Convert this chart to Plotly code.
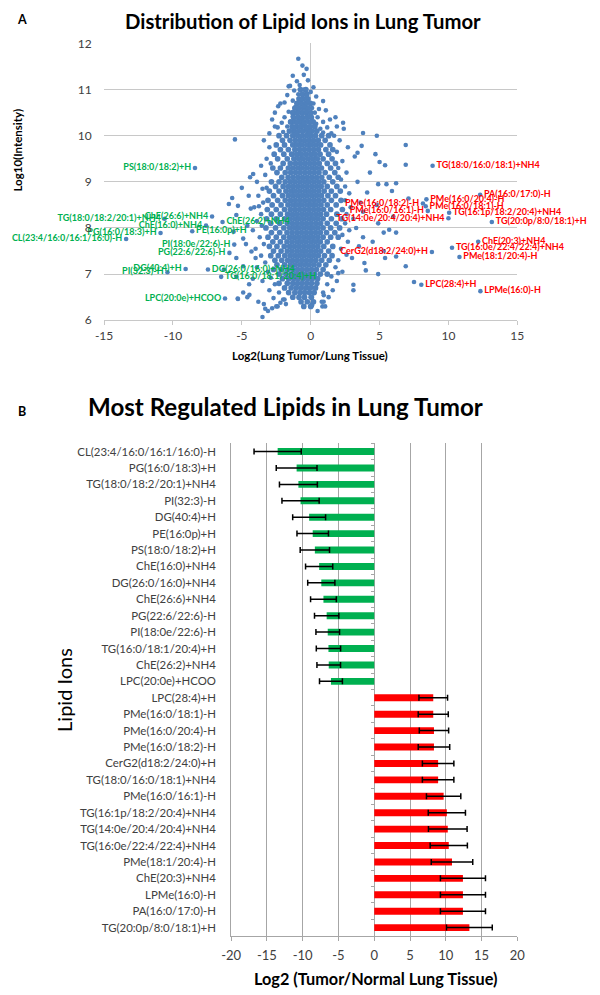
import plotly.graph_objects as go

# ---------------- Panel A data (scatter) ----------------
# Dense core of the cloud: (log10 intensity, [log2 ratios]) read row by row
core_rows = [
    (11.0, [-0.75, -0.35]),
    (10.9, [-0.6, -0.28]),
    (10.8, [-0.85, -0.52, -0.2]),
    (10.7, [-1.0, -0.68, -0.35, -0.02]),
    (10.6, [-1.15, -0.82, -0.5, -0.18]),
    (10.5, [-1.3, -0.98, -0.65, -0.32, 0.0]),
    (10.4, [-1.25, -0.92, -0.6, -0.27, 0.05]),
    (10.3, [-1.45, -1.12, -0.8, -0.47, -0.15, 0.18]),
    (10.2, [-1.35, -1.02, -0.7, -0.38, -0.05, 0.3]),
    (10.1, [-1.55, -1.2, -0.88, -0.55, -0.22, 0.1, 0.45]),
    (10.0, [-2.3, -1.75, -1.3, -0.95, -0.62, -0.3, 0.02, 0.35, 0.8, 1.3]),
    (9.9, [-2.05, -1.5, -1.12, -0.78, -0.45, -0.12, 0.2, 0.55, 1.05]),
    (9.8, [-2.5, -1.9, -1.3, -0.96, -0.62, -0.28, 0.05, 0.38, 0.72, 1.4]),
    (9.7, [-2.2, -1.62, -1.15, -0.8, -0.46, -0.12, 0.22, 0.56, 1.1, 1.6]),
    (9.6, [-2.65, -1.95, -1.38, -1.02, -0.68, -0.34, 0.0, 0.33, 0.68, 1.3]),
    (9.5, [-2.4, -1.7, -1.22, -0.88, -0.54, -0.2, 0.14, 0.48, 0.9, 1.55]),
    (9.4, [-2.0, -1.48, -1.1, -0.75, -0.41, -0.07, 0.27, 0.62, 1.2, 1.8]),
    (9.3, [-2.75, -2.2, -1.62, -1.28, -0.94, -0.6, -0.26, 0.08, 0.42, 0.78, 1.45]),
    (9.2, [-2.45, -1.85, -1.45, -1.1, -0.76, -0.42, -0.08, 0.26, 0.6, 1.05, 1.75]),
    (9.1, [-2.1, -1.64, -1.28, -0.93, -0.59, -0.25, 0.09, 0.43, 0.8, 1.35, 2.0]),
    (9.0, [-2.85, -2.3, -1.85, -1.47, -1.12, -0.78, -0.44, -0.1, 0.24, 0.58, 0.95, 1.6]),
    (8.9, [-2.55, -2.0, -1.62, -1.28, -0.94, -0.6, -0.26, 0.08, 0.42, 0.76, 1.2, 1.9]),
    (8.8, [-3.0, -2.3, -1.8, -1.45, -1.11, -0.77, -0.43, -0.09, 0.25, 0.59, 0.98, 1.5, 2.15]),
    (8.7, [-2.7, -2.05, -1.63, -1.28, -0.94, -0.6, -0.26, 0.08, 0.42, 0.78, 1.25, 1.8]),
    (8.6, [-3.1, -2.4, -1.85, -1.46, -1.12, -0.78, -0.44, -0.1, 0.24, 0.58, 0.95, 1.5, 2.2]),
    (8.5, [-2.8, -2.15, -1.65, -1.3, -0.96, -0.62, -0.28, 0.06, 0.4, 0.75, 1.2, 1.85]),
    (8.4, [-3.15, -2.5, -1.9, -1.48, -1.14, -0.8, -0.46, -0.12, 0.22, 0.56, 0.93, 1.45, 2.3]),
    (8.3, [-2.85, -2.2, -1.68, -1.32, -0.98, -0.64, -0.3, 0.04, 0.38, 0.72, 1.15, 1.9]),
    (8.2, [-3.2, -2.5, -1.9, -1.5, -1.16, -0.82, -0.48, -0.14, 0.2, 0.54, 0.9, 1.5, 2.25]),
    (8.1, [-2.9, -2.25, -1.7, -1.33, -0.99, -0.65, -0.31, 0.03, 0.37, 0.72, 1.2, 1.85]),
    (8.0, [-3.25, -2.55, -1.95, -1.52, -1.17, -0.83, -0.49, -0.15, 0.19, 0.53, 0.9, 1.45, 2.1]),
    (7.9, [-2.85, -2.25, -1.72, -1.35, -1.0, -0.66, -0.32, 0.02, 0.36, 0.7, 1.15, 1.75]),
    (7.8, [-3.1, -2.5, -1.95, -1.53, -1.18, -0.84, -0.5, -0.16, 0.18, 0.52, 0.9, 1.45, 2.0]),
    (7.7, [-2.75, -2.2, -1.72, -1.36, -1.01, -0.67, -0.33, 0.01, 0.35, 0.7, 1.2]),
    (7.6, [-3.0, -2.45, -1.92, -1.52, -1.18, -0.84, -0.5, -0.16, 0.18, 0.52, 0.95, 1.6]),
    (7.5, [-2.7, -2.15, -1.7, -1.35, -1.0, -0.66, -0.32, 0.02, 0.36, 0.72, 1.3]),
    (7.4, [-2.9, -2.35, -1.88, -1.5, -1.16, -0.82, -0.48, -0.14, 0.2, 0.55, 1.0, 1.55]),
    (7.3, [-2.6, -2.1, -1.67, -1.32, -0.98, -0.64, -0.3, 0.04, 0.38, 0.8, 1.35]),
    (7.2, [-2.45, -1.9, -1.48, -1.13, -0.79, -0.45, -0.11, 0.23, 0.6, 1.1]),
    (7.1, [-2.7, -2.15, -1.68, -1.3, -0.96, -0.62, -0.28, 0.06, 0.42, 0.9]),
    (7.0, [-2.3, -1.8, -1.42, -1.08, -0.74, -0.4, -0.06, 0.28, 0.7, 1.2]),
    (6.9, [-2.05, -1.6, -1.24, -0.9, -0.56, -0.22, 0.12, 0.5]),
    (6.8, [-2.3, -1.7, -1.3, -0.96, -0.62, -0.28, 0.06, 0.45]),
    (6.7, [-1.9, -1.42, -1.05, -0.7, -0.36, -0.02, 0.35]),
    (6.6, [-1.6, -1.15, -0.78, -0.44, -0.1, 0.25]),
    (6.5, [-1.3, -0.85, -0.45, 0.05]),
    (6.4, [-0.7, -0.25, 0.2]),
    (6.3, [-0.5, 0.0]),
]

# Sparse points around the core (log2 ratio, log10 intensity)
sparse_points = [
    (-0.9, 11.67), (-0.6, 11.52), (-0.3, 11.45), (-1.3, 11.3), (-0.5, 11.32), (-1.0, 11.18),
    (-0.2, 11.2), (-1.5, 11.08), (-0.8, 11.1), (0.2, 11.05), (-1.2, 10.98), (-0.5, 11.0),
    (0.0, 10.95), (-1.7, 10.88), (-0.9, 10.9), (-0.3, 10.87), (0.4, 10.85), (-2.2, 10.7),
    (-1.9, 10.72), (-1.3, 10.76), (-0.7, 10.78), (-0.2, 10.74), (0.2, 10.7), (0.9, 10.75),
    (-1.1, 10.62), (-0.5, 10.64), (0.1, 10.6), (0.6, 10.58), (-2.6, 10.5), (-1.6, 10.52),
    (-0.9, 10.5), (-0.3, 10.53), (0.3, 10.5), (1.1, 10.55), (-1.9, 10.4), (-1.3, 10.42),
    (-0.7, 10.38), (-0.1, 10.42), (0.5, 10.4), (1.4, 10.35), (-2.1, 10.28), (-1.5, 10.3),
    (-1.0, 10.3), (-0.5, 10.27), (0.0, 10.3), (0.4, 10.26), (0.9, 10.3), (-2.4, 10.18),
    (-1.7, 10.2), (-1.2, 10.17), (-0.8, 10.2), (-0.3, 10.16), (0.2, 10.2), (0.7, 10.15),
    (1.2, 10.18), (1.9, 10.2), (-2.0, 10.08), (-1.5, 10.1), (-1.0, 10.06), (-0.6, 10.1),
    (-0.1, 10.05), (0.4, 10.1), (0.9, 10.07), (1.5, 10.05),
    (-3.4, 9.9), (-3.0, 9.75), (-3.2, 9.5), (-3.6, 9.35), (-3.3, 9.15), (-3.9, 9.0),
    (-3.5, 8.85), (-3.8, 8.7), (-3.45, 8.55), (-4.1, 8.45), (-3.6, 8.3), (-3.9, 8.15),
    (-3.55, 8.05), (-4.2, 7.95), (-3.7, 7.8), (-3.4, 7.65), (-4.0, 7.55), (-3.6, 7.4),
    (-3.3, 7.25), (-3.9, 7.15), (-3.1, 7.05), (-2.9, 6.92), (-3.5, 6.85), (-2.6, 6.78),
    (-3.0, 6.65), (-2.3, 6.6), (-2.7, 6.48), (-2.0, 6.45), (-3.3, 6.25), (-2.4, 6.3),
    (-1.8, 6.35), (-4.6, 8.05), (-4.5, 8.7), (-4.4, 9.1), (-3.0, 10.05), (-2.8, 10.35),
    (-4.2, 6.9), (-4.7, 7.65),
    (1.7, 10.0), (2.1, 9.9), (1.9, 9.65), (2.3, 9.45), (2.0, 9.3), (2.6, 9.2), (2.2, 9.05),
    (2.5, 8.9), (2.8, 8.75), (2.5, 8.6), (2.9, 8.45), (2.6, 8.3), (3.1, 8.2), (2.5, 8.1),
    (2.8, 7.95), (2.3, 7.85), (2.7, 7.7), (2.2, 7.55), (2.6, 7.42), (2.0, 7.3), (1.8, 7.15),
    (2.3, 7.05), (1.5, 6.95), (1.9, 6.85), (1.2, 6.78), (1.6, 6.65), (0.9, 6.6), (1.3, 6.5),
    (0.8, 6.4), (1.05, 6.3), (0.5, 6.2), (0.1, 6.35), (3.4, 9.0), (3.6, 8.55), (3.3, 8.0),
    (3.5, 7.6), (3.0, 7.35), (3.2, 9.55), (2.7, 9.75), (2.4, 10.15), (1.8, 10.4),
    (-5.5, 9.92), (-4.18, 9.17), (-5.94, 8.52), (-5.28, 8.48), (-4.35, 8.42), (-3.76, 8.47),
    (-5.4, 8.28), (-5.6, 7.92), (-4.9, 7.77), (-4.3, 7.49), (-5.4, 7.35), (-4.9, 7.17),
    (-4.0, 7.35), (-5.4, 6.94), (-4.47, 6.78), (-5.3, 6.47), (-4.6, 6.5), (-3.5, 6.07),
    (-4.45, 6.55), (-3.1, 6.2), (-6.3, 7.1), (-5.7, 8.65), (-5.0, 8.87), (-3.2, 8.87),
    (-2.9, 9.4), (-2.6, 10.2), (-2.36, 10.64), (-1.6, 11.07), (-3.8, 6.4), (-3.4, 6.35),
    (-2.8, 6.26), (-2.5, 6.3), (-2.2, 6.38), (-1.9, 6.45), (0.0, 6.5), (0.1, 6.32),
    (0.85, 6.3), (0.95, 6.54), (3.1, 6.65), (-5.28, 6.46), (-4.9, 6.6),
    (2.35, 10.28), (3.8, 10.06), (4.8, 10.0), (6.9, 9.8), (4.7, 9.6), (5.0, 9.43),
    (5.4, 9.36), (6.9, 9.37), (3.7, 9.78), (3.4, 9.63), (6.2, 8.97), (5.5, 8.95),
    (4.9, 8.95), (7.1, 8.64), (5.9, 8.8), (4.3, 9.2), (4.1, 8.77), (3.8, 8.35),
    (4.8, 8.5), (6.0, 8.25), (4.9, 8.1), (5.7, 7.96), (6.2, 7.9), (5.3, 7.9), (3.8, 7.8),
    (4.5, 7.7), (5.3, 7.5), (6.2, 7.38), (6.9, 7.17), (5.4, 7.35), (3.9, 7.24),
    (4.0, 7.08), (4.9, 7.0), (3.1, 6.77), (2.0, 7.02), (0.94, 6.4), (7.5, 6.83),
]

# Labelled ions (name, log2 ratio, log10 intensity, label side)
down_labels = [
    ("PS(18:0/18:2)+H", -8.4, 9.30, "middle left"),
    ("ChE(26:6)+NH4", -7.16, 8.25, "middle left"),
    ("TG(18:0/18:2/20:1)+NH4", -10.6, 8.2, "middle left"),
    ("ChE(16:0)+NH4", -7.6, 8.05, "middle left"),
    ("PG(16:0/18:3)+H", -10.9, 7.89, "middle left"),
    ("CL(23:4/16:0/16:1/16:0)-H", -13.4, 7.76, "middle left"),
    ("PE(16:0p)+H", -8.6, 7.93, "middle right"),
    ("PI(18:0e/22:6)-H", -5.55, 7.64, "middle left"),
    ("PG(22:6/22:6)-H", -5.9, 7.46, "middle left"),
    ("DG(40:4)+H", -9.08, 7.11, "middle left"),
    ("PI(32:3)-H", -10.4, 7.04, "middle left"),
    ("LPC(20:0e)+HCOO", -6.22, 6.47, "middle left"),
    ("DG(26:0/16:0)+NH4", -7.46, 7.1, "middle right"),
    ("ChE(26:2)+NH4", -6.4, 8.13, "middle right"),
    ("TG(16:0/18:1/20:4)+H", -6.5, 6.94, "middle right"),
]
up_labels = [
    ("TG(18:0/16:0/18:1)+NH4", 8.85, 9.35, "middle right"),
    ("PA(16:0/17:0)-H", 12.3, 8.72, "middle right"),
    ("PMe(16:0/20:4)-H", 8.4, 8.62, "middle right"),
    ("PMe(16:0/18:1)-H", 8.35, 8.47, "middle right"),
    ("PMe(16:0/18:2)-H", 8.15, 8.53, "middle left"),
    ("PMe(16:0/16:1)-H", 8.5, 8.37, "middle left"),
    ("TG(14:0e/20:4/20:4)+NH4", 10.0, 8.21, "middle left"),
    ("TG(16:1p/18:2/20:4)+NH4", 10.05, 8.33, "middle right"),
    ("TG(20:0p/8:0/18:1)+H", 13.15, 8.13, "middle right"),
    ("ChE(20:3)+NH4", 12.16, 7.70, "middle right"),
    ("TG(16:0e/22:4/22:4)+NH4", 10.26, 7.57, "middle right"),
    ("PMe(18:1/20:4)-H", 10.8, 7.37, "middle right"),
    ("CerG2(d18:2/24:0)+H", 8.8, 7.48, "middle left"),
    ("LPC(28:4)+H", 8.03, 6.77, "middle right"),
    ("LPMe(16:0)-H", 12.32, 6.63, "middle right"),
]

# ---------------- Panel B data (bars) ----------------
lipids = [
    "CL(23:4/16:0/16:1/16:0)-H", "PG(16:0/18:3)+H", "TG(18:0/18:2/20:1)+NH4", "PI(32:3)-H",
    "DG(40:4)+H", "PE(16:0p)+H", "PS(18:0/18:2)+H", "ChE(16:0)+NH4", "DG(26:0/16:0)+NH4",
    "ChE(26:6)+NH4", "PG(22:6/22:6)-H", "PI(18:0e/22:6)-H", "TG(16:0/18:1/20:4)+H",
    "ChE(26:2)+NH4", "LPC(20:0e)+HCOO", "LPC(28:4)+H", "PMe(16:0/18:1)-H", "PMe(16:0/20:4)-H",
    "PMe(16:0/18:2)-H", "CerG2(d18:2/24:0)+H", "TG(18:0/16:0/18:1)+NH4", "PMe(16:0/16:1)-H",
    "TG(16:1p/18:2/20:4)+NH4", "TG(14:0e/20:4/20:4)+NH4", "TG(16:0e/22:4/22:4)+NH4",
    "PMe(18:1/20:4)-H", "ChE(20:3)+NH4", "LPMe(16:0)-H", "PA(16:0/17:0)-H", "TG(20:0p/8:0/18:1)+H",
]
log2_ratio = [
    -13.5, -10.85, -10.6, -10.3, -9.1, -8.6, -8.3, -7.7, -7.4, -7.1, -6.65, -6.5, -6.4, -6.36, -6.05,
    8.25, 8.25, 8.35, 8.35, 8.93, 8.93, 9.7, 10.15, 10.28, 10.42, 10.87, 12.4, 12.4, 12.4, 13.3,
]
log2_err = [
    3.3, 2.85, 2.65, 2.6, 2.3, 2.2, 2.05, 1.9, 1.9, 1.8, 1.7, 1.65, 1.7, 1.65, 1.6,
    2.0, 2.1, 2.05, 2.2, 2.2, 2.2, 2.4, 2.6, 2.7, 2.6, 2.9, 3.15, 3.15, 3.15, 3.2,
]
x_ticks_a = [-15, -10, -5, 0, 5, 10, 15]
y_ticks_a = [6, 7, 8, 9, 10, 11, 12]
x_ticks_b = [-20, -15, -10, -5, 0, 5, 10, 15, 20]

# ---------------- build ----------------
W, H = 600, 995
FONT = "Lato, 'Liberation Sans', Arial, sans-serif"
BLUE = "#4F81BD"
GREEN = "#00B050"
RED = "#FF0000"
TICK = "#404040"


def px_x(p):
    return p / W


def px_y(p):
    return 1 - p / H


core_x, core_y = [], []
for yv, xs in core_rows:
    for xv in xs:
        core_x.append(xv)
        core_y.append(yv)
sparse_x = [p[0] for p in sparse_points]
sparse_y = [p[1] for p in sparse_points]

fig = go.Figure()

fig.add_trace(go.Scatter(
    x=core_x, y=core_y, mode="markers",
    marker=dict(color=BLUE, size=5.7, line=dict(width=0)),
    xaxis="x", yaxis="y", showlegend=False, hoverinfo="skip",
))
fig.add_trace(go.Scatter(
    x=sparse_x, y=sparse_y, mode="markers",
    marker=dict(color=BLUE, size=4.6, line=dict(width=0)),
    xaxis="x", yaxis="y", showlegend=False, hoverinfo="skip",
))

for group, col in ((down_labels, GREEN), (up_labels, RED)):
    fig.add_trace(go.Scatter(
        x=[g[1] for g in group], y=[g[2] for g in group],
        text=["<b>%s</b>" % g[0] for g in group],
        textposition=[g[3] for g in group],
        mode="markers+text",
        marker=dict(color=BLUE, size=4.6, line=dict(width=0)),
        textfont=dict(family=FONT, color=col, size=9.0),
        xaxis="x", yaxis="y", showlegend=False, cliponaxis=False,
    ))

bar_colors = [GREEN if v < 0 else RED for v in log2_ratio]
fig.add_trace(go.Bar(
    x=log2_ratio, y=lipids, orientation="h",
    marker=dict(color=bar_colors, line=dict(width=0)),
    width=0.42,
    error_x=dict(type="data", array=log2_err, color="black", thickness=1.5, width=3),
    xaxis="x2", yaxis="y2", showlegend=False,
))
# invisible helper so category ticks can be drawn on the zero line
fig.add_trace(go.Scatter(
    x=[0] * len(lipids), y=lipids, mode="markers", marker=dict(opacity=0),
    xaxis="x2", yaxis="y3", showlegend=False, hoverinfo="skip",
))

GRID_A = "#C8C8C8"
GRID_B = "#A6A6A6"

fig.update_layout(
    width=W, height=H, margin=dict(l=0, r=0, t=0, b=0),
    paper_bgcolor="white", plot_bgcolor="white",
    font=dict(family=FONT, color=TICK),
    xaxis=dict(
        domain=[px_x(97), px_x(523)], range=[-15, 15],
        tickvals=x_ticks_a, ticktext=[str(v) for v in x_ticks_a],
        showgrid=False, zeroline=True, zerolinecolor=GRID_A, zerolinewidth=1,
        showline=True, linecolor=GRID_A, ticks="outside", ticklen=4, tickcolor=GRID_A,
        tickfont=dict(size=12, color=TICK), anchor="y", fixedrange=True,
    ),
    yaxis=dict(
        domain=[px_y(317), px_y(36)], range=[6, 12],
        tickvals=y_ticks_a, ticktext=[str(v) for v in y_ticks_a],
        showgrid=True, gridcolor=GRID_A, gridwidth=1, zeroline=False, showline=False,
        ticks="outside", ticklen=9, tickcolor="rgba(0,0,0,0)",
        tickfont=dict(size=12, color=TICK), anchor="x", fixedrange=True,
    ),
    xaxis2=dict(
        domain=[px_x(228), px_x(523)], range=[-20, 20],
        tickvals=x_ticks_b, ticktext=[str(v) for v in x_ticks_b],
        showgrid=True, gridcolor=GRID_B, gridwidth=1,
        zeroline=True, zerolinecolor=GRID_B, zerolinewidth=1,
        showline=True, linecolor=GRID_B, ticks="outside", ticklen=4, tickcolor=GRID_B,
        ticklabelstandoff=4,
        tickfont=dict(size=13, color=TICK), anchor="y2", fixedrange=True,
    ),
    yaxis2=dict(
        domain=[px_y(942), px_y(442)], type="category", categoryorder="array",
        categoryarray=lipids, range=[len(lipids) - 0.5, -0.5],
        showgrid=False, zeroline=False, showline=True, linecolor=GRID_B,
        ticks="outside", ticklen=12, tickcolor="rgba(0,0,0,0)",
        tickfont=dict(size=11.4, color=TICK), anchor="x2", fixedrange=True,
    ),
    yaxis3=dict(
        domain=[px_y(942), px_y(442)], type="category", categoryorder="array",
        categoryarray=lipids, range=[len(lipids) - 0.5, -0.5],
        overlaying="y2", anchor="free", position=px_x(376), side="left",
        showgrid=False, zeroline=False, showline=False, showticklabels=False,
        ticks="outside", ticklen=4, tickcolor=GRID_B, tickson="boundaries",
        fixedrange=True,
    ),
)

ann = [
    dict(text="<b>A</b>", x=px_x(12), y=px_y(12), xanchor="center", yanchor="middle",
         font=dict(size=12.5, color="black")),
    dict(text="<b>Distribution of Lipid Ions in Lung Tumor</b>", x=px_x(302), y=px_y(13),
         xanchor="center", yanchor="middle", font=dict(size=20.3, color="black")),
    dict(text="<b>Log10(Intensity)</b>", x=px_x(8), y=px_y(144), textangle=-90,
         xanchor="center", yanchor="middle", font=dict(size=11.5, color="black")),
    dict(text="<b>Log2(Lung Tumor/Lung Tissue)</b>", x=px_x(309), y=px_y(353),
         xanchor="center", yanchor="middle", font=dict(size=11.5, color="black")),
    dict(text="<b>B</b>", x=px_x(12), y=px_y(410), xanchor="center", yanchor="middle",
         font=dict(size=12.5, color="black")),
    dict(text="<b>Most Regulated Lipids in Lung Tumor</b>", x=px_x(284), y=px_y(405),
         xanchor="center", yanchor="middle", font=dict(size=24.1, color="black")),
    dict(text="Lipid Ions", x=px_x(55), y=px_y(692), textangle=-90,
         xanchor="center", yanchor="middle", font=dict(size=20, color="black")),
    dict(text="<b>Log2 (Tumor/Normal Lung Tissue)</b>", x=px_x(377), y=px_y(985),
         xanchor="center", yanchor="middle", font=dict(size=16.3, color="black")),
]
for a in ann:
    a.update(xref="paper", yref="paper", showarrow=False)
fig.update_layout(annotations=ann)

fig.write_html(
    "out.html", config={"displayModeBar": False},
    post_script="document.documentElement.style.margin='0';document.body.style.margin='0';"
                "document.body.style.padding='0';document.body.style.overflow='hidden';",
)
